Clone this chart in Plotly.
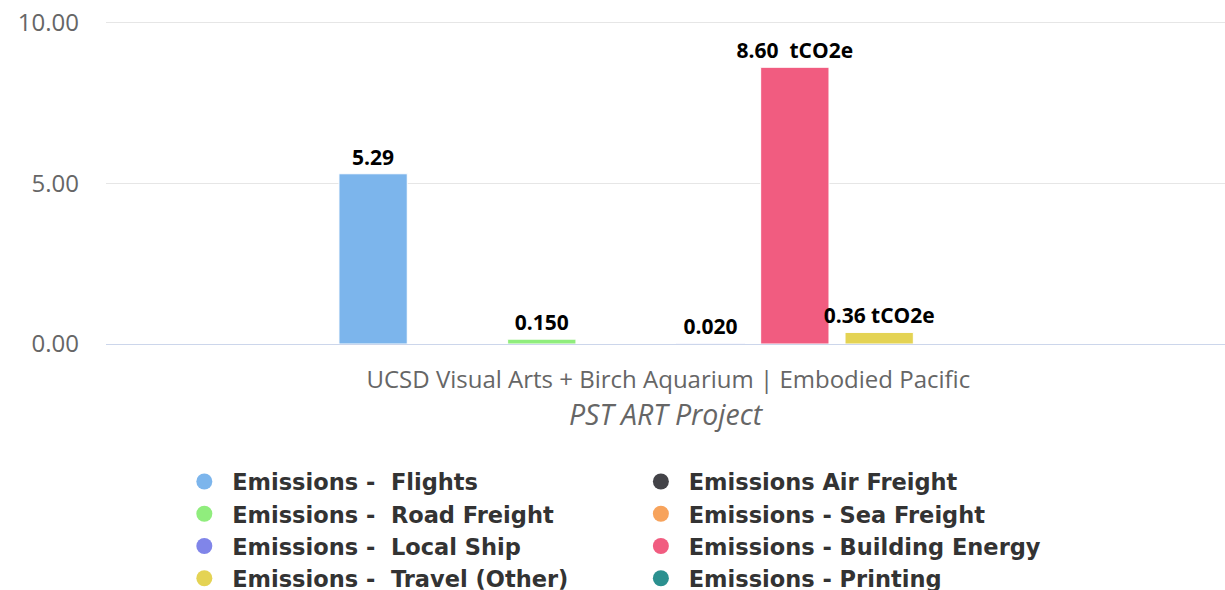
import plotly.graph_objects as go

category = ["UCSD Visual Arts + Birch Aquarium | Embodied Pacific"]
series_names = [
    "Emissions - Flights",
    "Emissions Air Freight",
    "Emissions - Road Freight",
    "Emissions - Sea Freight",
    "Emissions - Local Ship",
    "Emissions - Building Energy",
    "Emissions - Travel (Other)",
    "Emissions - Printing",
]
legend_labels = [
    "Emissions -  Flights",
    "Emissions Air Freight",
    "Emissions -  Road Freight",
    "Emissions - Sea Freight",
    "Emissions -  Local Ship",
    "Emissions - Building Energy",
    "Emissions -  Travel (Other)",
    "Emissions - Printing",
]
values = [5.29, 0, 0.150, 0, 0.020, 8.60, 0.36, 0]
data_labels = ["5.29", "", "0.150", "", "0.020", "8.60  tCO2e", "0.36 tCO2e", ""]
colors = ["#7cb5ec", "#434348", "#90ed7d", "#f7a35c", "#8085e9", "#f15c80", "#e4d354", "#2b908f"]
y_ticks = [0, 5, 10]
x_title = "PST ART Project"

fig = go.Figure()
for i, name in enumerate(series_names):
    fig.add_trace(go.Bar(
        x=category, y=[values[i]], name=name,
        marker=dict(color=colors[i], line=dict(color="white", width=1)),
        text=[data_labels[i]], textposition="outside", cliponaxis=False,
        constraintext="none",
        textfont=dict(family="Open Sans", size=21, color="#000000", weight="bold"),
        showlegend=False,
    ))

# legend entries (circle symbols), two columns
for i, name in enumerate(series_names):
    fig.add_trace(go.Scatter(
        x=[None], y=[None], mode="markers", name="\u00a0" + legend_labels[i],
        marker=dict(symbol="circle", size=22, color=colors[i]),
        legend="legend" if i % 2 == 0 else "legend2",
        legendgroup=name,
    ))

legend_font = dict(family="DejaVu Sans", size=22.5, color="#333333", weight="bold")
fig.update_layout(
    width=1225, height=590,
    margin=dict(l=106, r=0, t=19, b=246, autoexpand=False),
    paper_bgcolor="white", plot_bgcolor="white",
    barmode="group", bargap=0.4, bargroupgap=0.19,
    xaxis=dict(
        type="category", range=[-0.5, 0.495],
        showline=True, linecolor="#ccd6eb", linewidth=1,
        showgrid=False, ticks="", ticklabelstandoff=14,
        tickfont=dict(family="Open Sans", size=24, color="#666666"),
        title=dict(text=x_title, standoff=1,
                   font=dict(family="Open Sans", size=28.5, color="#666666", style="italic")),
    ),
    yaxis=dict(
        range=[0, 10.1], tickvals=y_ticks, tickformat=".2f",
        showgrid=True, gridcolor="#e6e6e6", gridwidth=1, zeroline=False,
        ticklabelstandoff=26,
        tickfont=dict(family="Open Sans", size=24, color="#666666"),
    ),
    legend=dict(x=0.07, y=-0.358, xanchor="left", yanchor="top",
                font=legend_font, tracegroupgap=0, bgcolor="rgba(0,0,0,0)"),
    legend2=dict(x=0.478, y=-0.358, xanchor="left", yanchor="top",
                 font=legend_font, tracegroupgap=0, bgcolor="rgba(0,0,0,0)"),
)

fig.write_html("out.html", config={"displayModeBar": False},
               post_script="document.body.style.margin='0';document.body.style.overflow='hidden';")
